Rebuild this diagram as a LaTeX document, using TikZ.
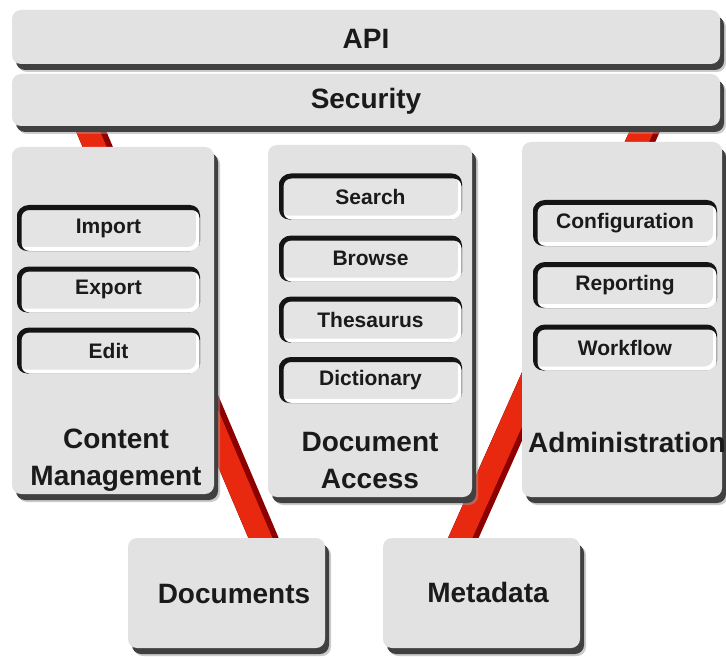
\documentclass[tikz,border=0pt]{standalone}
\usepackage{fontspec}
\setmainfont{Liberation Sans}
\usetikzlibrary{shadows}
\pgfdeclarelayer{back}
\pgfdeclarelayer{bg}
\pgfsetlayers{back,bg,main}
\definecolor{boxgray}{HTML}{E2E2E2}
\definecolor{subgray}{HTML}{E4E4E4}
\definecolor{txt}{HTML}{1A1A1A}
\definecolor{redc}{HTML}{E8290F}
\tikzset{
  mainbox/.style={fill=boxgray, rounded corners=9pt, inner sep=0pt,
    drop shadow={shadow xshift=6pt,shadow yshift=-8pt,fill=black!40,opacity=0.5},
    drop shadow={shadow xshift=4pt,shadow yshift=-6pt,fill=black!75,opacity=1}},
  bigtext/.style={font=\bfseries\fontsize{28}{37}\selectfont, text=txt, inner sep=0pt, align=center},
  subbox/.style={fill=subgray, rounded corners=10pt, inner sep=0pt,
    minimum width=183pt, minimum height=46pt, text=txt,
    font=\bfseries\fontsize{21}{27}\selectfont,
    path picture={
      \draw[white, line width=4pt, rounded corners=10pt]
        ([shift={(-2pt,2pt)}]path picture bounding box.north west) rectangle
        ([shift={(-2pt,2pt)}]path picture bounding box.south east);
      \draw[black!92, line width=5pt, rounded corners=10pt]
        ([shift={(2pt,-2.5pt)}]path picture bounding box.north west) rectangle
        ([shift={(2pt,-2.5pt)}]path picture bounding box.south east);
    }},
  redshade/.style={draw=red!55!black, line width=28pt},
  redline/.style={draw=redc, line width=22pt}
}
\begin{document}
\begin{tikzpicture}[x=1pt,y=-1pt]
\useasboundingbox (0,0) rectangle (726,658);
\begin{pgfonlayer}{back}
\fill[white] (0,0) rectangle (726,658);
\end{pgfonlayer}
% top bars
\node[mainbox, minimum width=708pt, minimum height=54pt] (api) at (366,37) {};
\node[bigtext] (apit) at (366,39) {API};
\node[mainbox, minimum width=708pt, minimum height=52pt] (sec) at (366,100) {};
\node[bigtext] (sect) at (366,101) {Security};
% columns
\node[mainbox, minimum width=202pt, minimum height=347pt] (cm) at (113,320.5) {};
\node[mainbox, minimum width=204pt, minimum height=352pt] (da) at (370,321) {};
\node[mainbox, minimum width=200pt, minimum height=355pt] (adm) at (622,319.5) {};
% sub boxes
\node[subbox] (imp) at (108.5,228) {Import};
\node[subbox] (exp) at (108.5,289.5) {Export};
\node[subbox] (edit) at (108.5,350.5) {Edit};
\node[subbox] (search) at (370.5,196.5) {Search};
\node[subbox] (browse) at (370.5,258.5) {Browse};
\node[subbox] (thes) at (370.5,319.5) {Thesaurus};
\node[subbox] (dict) at (370.5,380) {Dictionary};
\node[subbox, minimum width=184pt] (conf) at (625,223) {Configuration};
\node[subbox, minimum width=184pt] (rep) at (625,285) {Reporting};
\node[subbox, minimum width=184pt] (wf) at (625,347.5) {Workflow};
% column titles
\node[bigtext] (cmt) at (116,460) {Content\\Management};
\node[bigtext] (dat) at (370,461) {Document\\Access};
\node[bigtext] (admt) at (627,442) {Administration};
% bottom stores
\node[mainbox, minimum width=197pt, minimum height=110pt] (doc) at (226.5,593) {};
\node[bigtext] (doct) at (234,594) {Documents};
\node[mainbox, minimum width=197pt, minimum height=110pt] (meta) at (481.5,593) {};
\node[bigtext] (metat) at (488,592) {Metadata};
% red connectors
\begin{pgfonlayer}{bg}
\draw[redshade] ([xshift=75pt,yshift=5pt]sec.south west) -- ([xshift=139pt,yshift=-8pt]doc.north west);
\draw[redline] ([xshift=72pt,yshift=5pt]sec.south west) -- ([xshift=136pt,yshift=-8pt]doc.north west);
\draw[redshade] ([xshift=-71pt,yshift=5pt]sec.south east) -- ([xshift=77pt,yshift=-8pt]meta.north west);
\draw[redline] ([xshift=-74pt,yshift=5pt]sec.south east) -- ([xshift=74pt,yshift=-8pt]meta.north west);
\end{pgfonlayer}
\end{tikzpicture}
\end{document}
